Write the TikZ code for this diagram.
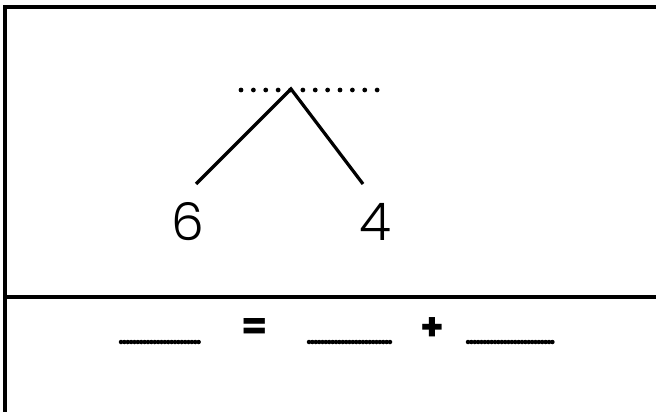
\documentclass[tikz,border=0pt]{standalone}
\usepackage{fontspec}
\setmainfont{Poppins}
\newfontfamily\digitfont{Poppins}[UprightFont={* Light}]
\usetikzlibrary{positioning}
\tikzset{
  frameline/.style={line width=2.2pt, black},
  legline/.style={line width=2.3pt, black},
  dotrow/.style={line width=3.4pt, line cap=round, dash pattern=on 0pt off 8.8pt},
  blankline/.style={line width=3.2pt, line cap=round, dash pattern=on 0pt off 2.4pt},
  digit/.style={font=\digitfont\fontsize{37}{42}\selectfont, inner sep=0pt},
  sign/.style={font=\bfseries\fontsize{27}{31}\selectfont, inner sep=0pt},
}
\begin{document}
\begin{tikzpicture}[x=0.025cm, y=-0.025cm]
  \useasboundingbox (0,0) rectangle (656,412);
  % frame of the table
  \draw[frameline] (656,7) -- (5,7) -- (5,412);
  \draw[frameline] (5,297) -- (656,297);
  % number bond
  \coordinate (top) at (291,89);
  \coordinate (dotsW) at (241,90);
  \coordinate (dotsE) at (381,90);
  \draw[dotrow] (dotsW) -- (dotsE);
  \coordinate (legL) at (196,184);
  \coordinate (legR) at (363,184);
  \draw[legline] (legL) -- (top) -- (legR);
  \node[digit] (six) at (188,222) {6};
  \node[digit] (four) at (375,222) {4};
  % number sentence
  \foreach \n/\a/\b in {whole/121/201, partA/309/393, partB/468/553} {
    \coordinate (\n W) at (\a,342);
    \coordinate (\n E) at (\b,342);
    \draw[blankline] (\n W) -- (\n E);
  }
  \node[sign] (eq) at (255,329) {=};
  \node[sign] (plus) at (432,329) {+};
\end{tikzpicture}
\end{document}
